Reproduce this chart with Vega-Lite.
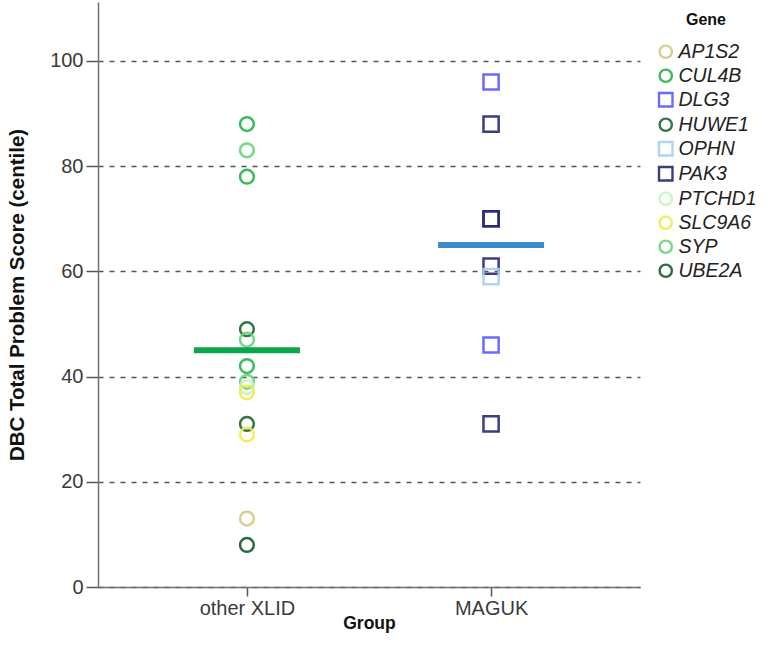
{
  "$schema": "https://vega.github.io/schema/vega-lite/v6.json",
  "width": 542,
  "height": 585,
  "autosize": {"type": "none"},
  "padding": {"left": 98, "top": 2, "right": 132, "bottom": 75},
  "background": "white",
  "config": {
    "view": {"stroke": null},
    "font": "Liberation Sans",
    "axis": {
      "labelFont": "Liberation Sans",
      "labelFontSize": 20,
      "labelColor": "#3a3a3a",
      "titleFont": "Liberation Sans",
      "titleFontWeight": "bold",
      "titleColor": "#111",
      "domainColor": "#707070",
      "domainWidth": 1.5,
      "tickColor": "#555",
      "tickWidth": 1.5
    },
    "legend": {
      "titleFont": "Liberation Sans", "titleFontSize": 16, "titleFontWeight": "bold", "titleColor": "#111",
      "titleAnchor": "middle", "titlePadding": 14,
      "labelFont": "Liberation Sans", "labelFontSize": 19.5, "labelFontStyle": "italic", "labelColor": "#222",
      "symbolSize": 150, "symbolStrokeWidth": 2.4, "rowPadding": 1, "labelOffset": 3
    }
  },
  "datasets": {
    "pts": [
      {"Group": "other XLID", "Gene": "CUL4B", "Score": 88},
      {"Group": "other XLID", "Gene": "SYP", "Score": 83},
      {"Group": "other XLID", "Gene": "CUL4B", "Score": 78},
      {"Group": "other XLID", "Gene": "HUWE1", "Score": 49},
      {"Group": "other XLID", "Gene": "SYP", "Score": 47},
      {"Group": "other XLID", "Gene": "CUL4B", "Score": 42},
      {"Group": "other XLID", "Gene": "SYP", "Score": 39},
      {"Group": "other XLID", "Gene": "PTCHD1", "Score": 38},
      {"Group": "other XLID", "Gene": "SLC9A6", "Score": 37},
      {"Group": "other XLID", "Gene": "HUWE1", "Score": 31},
      {"Group": "other XLID", "Gene": "SLC9A6", "Score": 29},
      {"Group": "other XLID", "Gene": "AP1S2", "Score": 13},
      {"Group": "other XLID", "Gene": "UBE2A", "Score": 8},
      {"Group": "MAGUK", "Gene": "DLG3", "Score": 96},
      {"Group": "MAGUK", "Gene": "PAK3", "Score": 88},
      {"Group": "MAGUK", "Gene": "PAK3", "Score": 70},
      {"Group": "MAGUK", "Gene": "PAK3", "Score": 70},
      {"Group": "MAGUK", "Gene": "PAK3", "Score": 61},
      {"Group": "MAGUK", "Gene": "OPHN", "Score": 59},
      {"Group": "MAGUK", "Gene": "DLG3", "Score": 46},
      {"Group": "MAGUK", "Gene": "PAK3", "Score": 31}
    ],
    "means": [
      {"Group": "other XLID", "Mean": 45},
      {"Group": "MAGUK", "Mean": 65}
    ]
  },
  "layer": [
    {
      "data": {"name": "pts"},
      "mark": {"type": "point", "filled": false, "strokeWidth": 2.5, "size": 190, "opacity": 0.9},
      "encoding": {
        "x": {
          "field": "Group", "type": "nominal",
          "sort": ["other XLID", "MAGUK"],
          "scale": {"type": "point", "padding": 0.61},
          "axis": {"title": "Group", "titleFontSize": 17.5, "labelAngle": 0, "tickSize": 9, "labelPadding": 2, "titlePadding": -4, "grid": false}
        },
        "y": {
          "field": "Score", "type": "quantitative",
          "scale": {"domain": [0, 111.2], "nice": false},
          "axis": {
            "title": "DBC Total Problem Score (centile)",
            "titleFontSize": 20.5,
            "values": [0, 20, 40, 60, 80, 100],
            "tickSize": 12,
            "grid": true, "gridDash": [5, 6], "gridColor": "#555", "gridWidth": 1.5,
            "labelPadding": 3, "titlePadding": 22
          }
        },
        "color": {
          "field": "Gene", "type": "nominal",
          "scale": {
            "domain": ["AP1S2", "CUL4B", "DLG3", "HUWE1", "OPHN", "PAK3", "PTCHD1", "SLC9A6", "SYP", "UBE2A"],
            "range": ["#d2ca8c", "#27b44a", "#5a5aff", "#1c6834", "#a9cff0", "#252a78", "#c4f4c4", "#f0ec4a", "#68d47c", "#145c2c"]
          },
          "legend": {"title": "Gene", "orient": "none", "legendX": 558, "legendY": 10}
        },
        "shape": {
          "field": "Gene", "type": "nominal",
          "scale": {
            "domain": ["AP1S2", "CUL4B", "DLG3", "HUWE1", "OPHN", "PAK3", "PTCHD1", "SLC9A6", "SYP", "UBE2A"],
            "range": ["circle", "circle", "M-1.1,-1.1H1.1V1.1H-1.1Z", "circle", "M-1.1,-1.1H1.1V1.1H-1.1Z", "M-1.1,-1.1H1.1V1.1H-1.1Z", "circle", "circle", "circle", "circle"]
          },
          "legend": {"title": "Gene", "orient": "none", "legendX": 558, "legendY": 10}
        }
      }
    },
    {
      "data": {"name": "means"},
      "mark": {"type": "tick", "size": 106, "thickness": 6, "opacity": 1},
      "encoding": {
        "x": {"field": "Group", "type": "nominal", "sort": ["other XLID", "MAGUK"]},
        "y": {"field": "Mean", "type": "quantitative"},
        "color": {
          "condition": {"test": "datum.Group === 'MAGUK'", "value": "#3d8ac9"},
          "value": "#0aa64a"
        }
      }
    }
  ]
}
